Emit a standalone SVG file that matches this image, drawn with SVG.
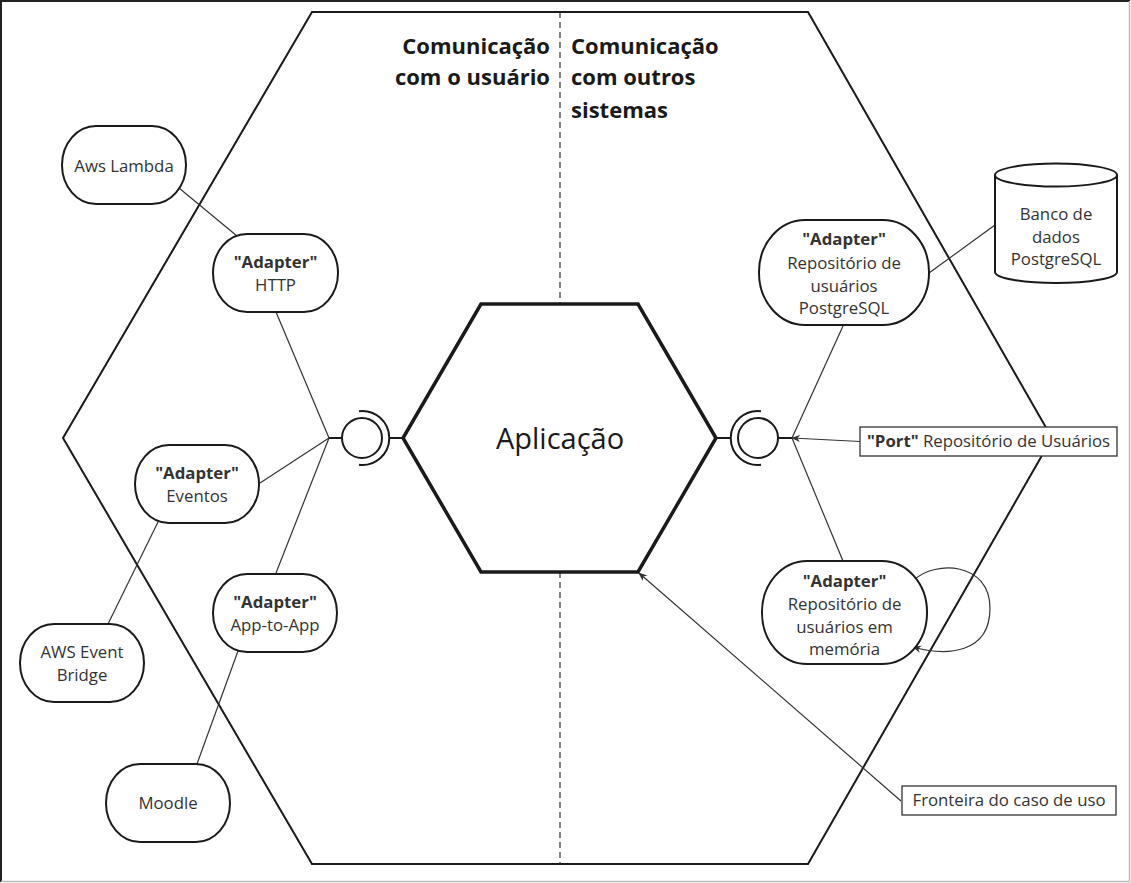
<svg xmlns="http://www.w3.org/2000/svg" width="1131" height="883" viewBox="0 0 1131 883">
<defs>
<style>
.hex{fill:none;stroke:#1a1a1a;stroke-width:2}
.core{fill:#fff;stroke:#1a1a1a;stroke-width:3.5}
.node{fill:#fff;stroke:#1a1a1a;stroke-width:2}
.box{fill:#fff;stroke:#333;stroke-width:1.3}
.ln{fill:none;stroke:#333;stroke-width:1.2}
.t{font-family:"Open Sans","Liberation Sans",sans-serif;font-size:16.8px;fill:#333;text-anchor:middle}
.b{font-weight:bold}
.h{font-family:"Open Sans","Liberation Sans",sans-serif;font-size:22px;font-weight:bold;fill:#1a1a1a}
</style>
<marker id="arr" viewBox="0 0 10 10" refX="9" refY="5" markerWidth="9" markerHeight="9" orient="auto" markerUnits="userSpaceOnUse">
<path d="M0,1 L10,5 L0,9 L3,5 z" fill="#333"/>
</marker>
</defs>
<rect x="0" y="0" width="1131" height="883" fill="#fff"/>
<path d="M1,882 L1,1 L1130,1" fill="none" stroke="#222" stroke-width="2"/>
<path d="M1129.5,1 L1129.5,881.5 L1,881.5" fill="none" stroke="#bbb" stroke-width="1.5"/>

<g id="outer-hexagon">
<polygon class="hex" points="312,12 808,12 1052,438 808,864 312,864 63,438"/>
<line x1="560" y1="12" x2="560" y2="864" stroke="#333" stroke-width="1.2" stroke-dasharray="6,4"/>
<text class="h" x="550" y="54" text-anchor="end">Comunicação</text>
<text class="h" x="550" y="85" text-anchor="end">com o usuário</text>
<text class="h" x="571" y="54">Comunicação</text>
<text class="h" x="571" y="85">com outros</text>
<text class="h" x="571" y="118">sistemas</text>
</g>

<g id="connectors">
<line class="ln" x1="179" y1="188" x2="237" y2="236"/>
<line class="ln" x1="276" y1="312" x2="329" y2="438"/>
<line class="ln" x1="260" y1="483" x2="329" y2="438"/>
<line class="ln" x1="276" y1="573" x2="329" y2="438"/>
<line class="ln" x1="158" y1="522" x2="108" y2="624"/>
<line class="ln" x1="238" y1="651" x2="197" y2="764"/>
<line class="ln" x1="929" y1="273" x2="995" y2="225"/>
<line class="ln" x1="843" y1="326" x2="792" y2="438"/>
<line class="ln" x1="843" y1="561" x2="792" y2="438"/>
<line class="ln" x1="860" y1="441.5" x2="792" y2="438" marker-end="url(#arr)"/>
<line class="ln" x1="901" y1="801" x2="639" y2="573" marker-end="url(#arr)"/>
<path class="ln" d="M914,580 C935,560 990,562 990,608 C990,655 945,656 913,647" marker-end="url(#arr)"/>
</g>

<g id="port-left">
<line x1="329" y1="438" x2="342" y2="438" stroke="#1a1a1a" stroke-width="2"/>
<circle cx="362" cy="438" r="20" fill="#fff" stroke="#1a1a1a" stroke-width="2"/>
<path d="M359,411.2 A27,27 0 1 1 359,464.8" fill="none" stroke="#1a1a1a" stroke-width="2"/>
<line x1="389" y1="438" x2="404" y2="438" stroke="#1a1a1a" stroke-width="2"/>
</g>

<g id="port-right">
<line x1="715" y1="438" x2="731" y2="438" stroke="#1a1a1a" stroke-width="2"/>
<path d="M761,411.2 A27,27 0 1 0 761,464.8" fill="none" stroke="#1a1a1a" stroke-width="2"/>
<circle cx="758" cy="438" r="20" fill="#fff" stroke="#1a1a1a" stroke-width="2"/>
<line x1="778" y1="438" x2="792" y2="438" stroke="#1a1a1a" stroke-width="2"/>
</g>

<g id="aplicacao">
<polygon class="core" points="481,304 638,304 716,438 638,572 481,572 403,438"/>
<text x="560" y="449" font-family="Open Sans, Liberation Sans, sans-serif" font-size="29" fill="#1a1a1a" text-anchor="middle">Aplicação</text>
</g>

<g id="aws-lambda">
<rect class="node" x="62" y="126" width="124" height="78" rx="34" ry="39"/>
<text class="t" x="124" y="172">Aws Lambda</text>
</g>

<g id="adapter-http">
<rect class="node" x="213" y="234" width="125" height="78" rx="34" ry="39"/>
<text class="t b" x="275.5" y="268">"Adapter"</text>
<text class="t" x="275.5" y="291">HTTP</text>
</g>

<g id="adapter-eventos">
<rect class="node" x="135" y="445" width="124" height="78" rx="34" ry="39"/>
<text class="t b" x="197" y="479">"Adapter"</text>
<text class="t" x="197" y="502">Eventos</text>
</g>

<g id="aws-event-bridge">
<rect class="node" x="20" y="624" width="124" height="78" rx="34" ry="39"/>
<text class="t" x="82" y="658">AWS Event</text>
<text class="t" x="82" y="681">Bridge</text>
</g>

<g id="adapter-app">
<rect class="node" x="213" y="574" width="124" height="78" rx="34" ry="39"/>
<text class="t b" x="275" y="608">"Adapter"</text>
<text class="t" x="275" y="631">App-to-App</text>
</g>

<g id="moodle">
<rect class="node" x="106" y="764" width="124" height="78" rx="34" ry="39"/>
<text class="t" x="168" y="809">Moodle</text>
</g>

<g id="adapter-postgres">
<rect class="node" x="759" y="220" width="170" height="105" rx="46" ry="52"/>
<text class="t b" x="844" y="245">"Adapter"</text>
<text class="t" x="844" y="269">Repositório de</text>
<text class="t" x="844" y="292">usuários</text>
<text class="t" x="844" y="314">PostgreSQL</text>
</g>

<g id="banco-de-dados">
<path class="node" d="M995,175 L995,272 A61,11 0 0 0 1117,272 L1117,175"/>
<ellipse class="node" cx="1056" cy="175" rx="61" ry="11.5"/>
<text class="t" x="1056" y="220">Banco de</text>
<text class="t" x="1056" y="243">dados</text>
<text class="t" x="1056" y="265">PostgreSQL</text>
</g>

<g id="adapter-memoria">
<rect class="node" x="762" y="561" width="165" height="103" rx="45" ry="51"/>
<text class="t b" x="844.5" y="587">"Adapter"</text>
<text class="t" x="844.5" y="610">Repositório de</text>
<text class="t" x="844.5" y="633">usuários em</text>
<text class="t" x="844.5" y="655">memória</text>
</g>

<g id="port-label">
<rect class="box" x="860" y="427" width="257" height="29"/>
<text class="t" x="988.5" y="447"><tspan class="b" font-weight="bold">"Port"</tspan> Repositório de Usuários</text>
</g>

<g id="fronteira-label">
<rect class="box" x="902" y="786" width="214" height="29"/>
<text class="t" x="1009" y="806">Fronteira do caso de uso</text>
</g>
</svg>
